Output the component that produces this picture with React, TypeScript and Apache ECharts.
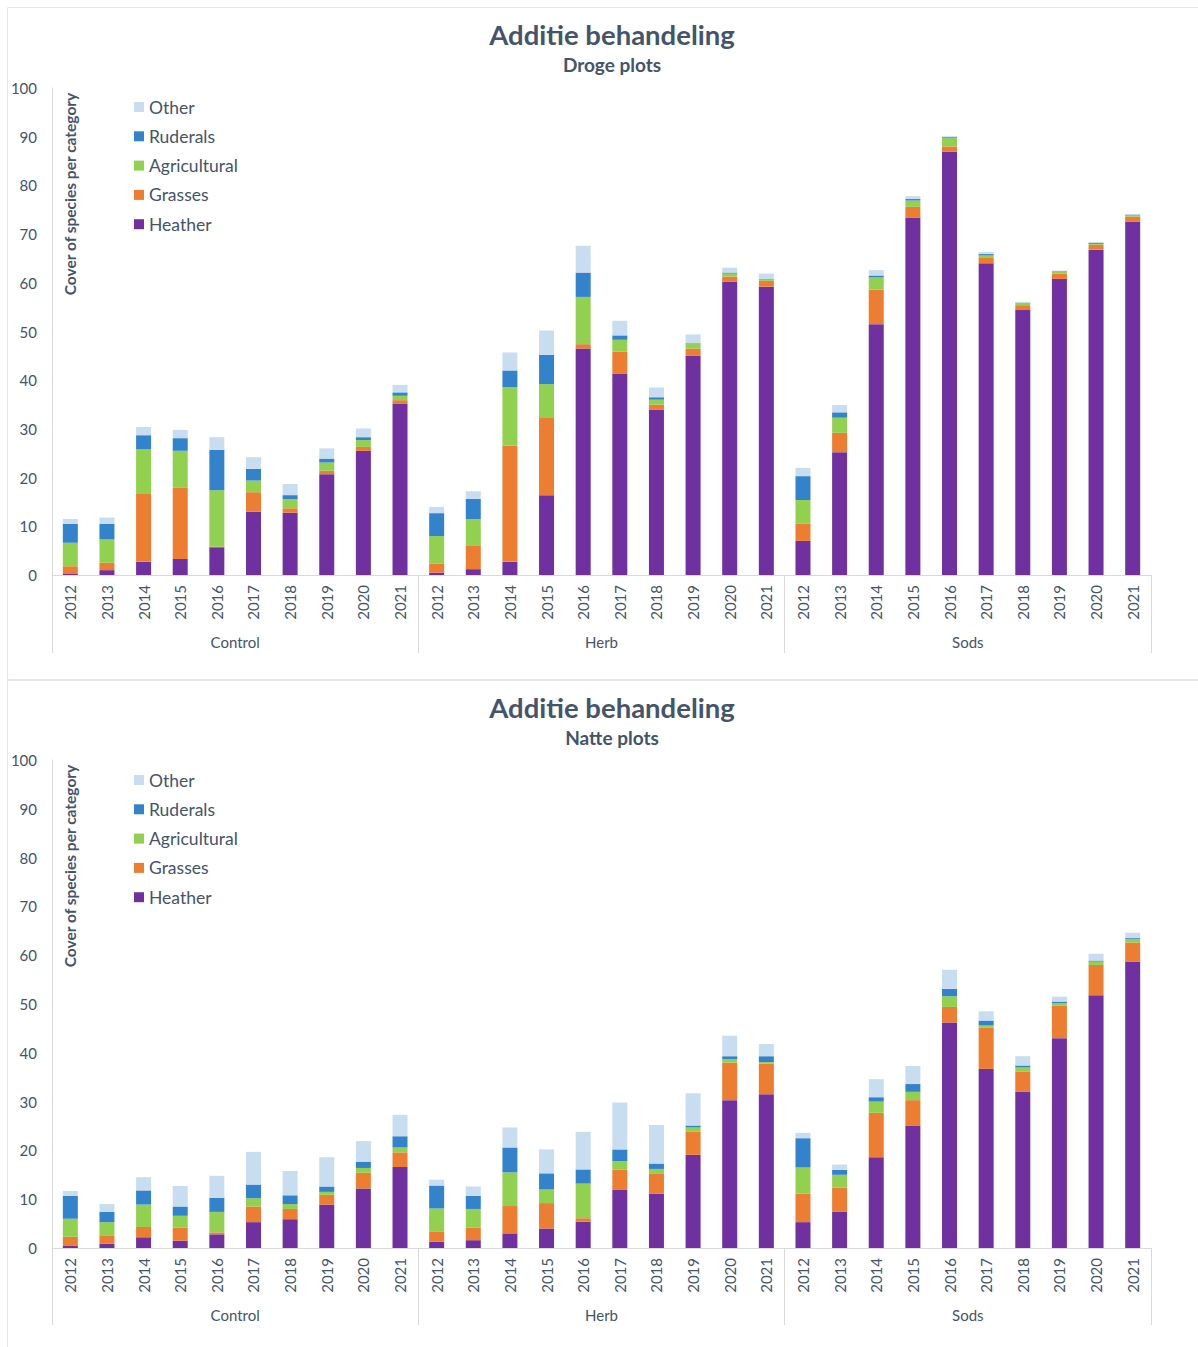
import React, { useEffect, useRef } from "react";
import * as echarts from "echarts";

const years = ["2012", "2013", "2014", "2015", "2016", "2017", "2018", "2019", "2020", "2021"];
const groups = ["Control", "Herb", "Sods"];
const legendOrder = ["Other", "Ruderals", "Agricultural", "Grasses", "Heather"];
const titleText = "Additie behandeling";
const subtitles = ["Droge plots", "Natte plots"];
const yAxisName = "Cover of species per category";

// Droge plots (dry) — Control | Herb | Sods, 2012..2021 each
const drogeHeather = [
  0.2, 1.0, 2.7, 3.3, 5.7, 13.0, 12.8, 20.7, 25.5, 35.2,
  0.5, 1.2, 2.7, 16.4, 46.5, 41.3, 33.9, 45.0, 60.2, 59.2,
  7.0, 25.2, 51.5, 73.4, 86.9, 64.0, 54.4, 60.8, 66.8, 72.6,
];
const drogeGrasses = [
  1.6, 1.5, 14.1, 14.6, 0.1, 4.0, 0.9, 0.7, 0.8, 0.7,
  1.8, 4.9, 23.9, 16.0, 0.9, 4.6, 1.1, 1.5, 1.1, 1.2,
  3.5, 4.0, 7.1, 2.2, 1.1, 1.1, 1.0, 1.1, 1.0, 1.0,
];
const drogeAgricultural = [
  4.8, 4.8, 9.0, 7.6, 11.6, 2.4, 1.9, 1.7, 1.4, 0.9,
  5.7, 5.4, 12.0, 6.8, 9.7, 2.4, 1.0, 1.0, 0.6, 0.3,
  4.9, 3.1, 2.5, 1.3, 1.7, 0.5, 0.4, 0.4, 0.2, 0.3,
];
const drogeRuderals = [
  3.9, 3.2, 2.9, 2.6, 8.3, 2.4, 0.8, 0.8, 0.6, 0.7,
  4.7, 4.1, 3.4, 6.0, 5.0, 0.9, 0.5, 0.1, 0.2, 0.1,
  4.9, 1.1, 0.4, 0.3, 0.2, 0.3, 0.1, 0.1, 0.2, 0.1,
];
const drogeOther = [
  1.0, 1.3, 1.7, 1.7, 2.6, 2.4, 2.3, 2.1, 1.8, 1.5,
  1.3, 1.6, 3.7, 5.0, 5.5, 3.0, 2.0, 1.8, 1.0, 1.1,
  1.7, 1.5, 1.1, 0.6, 0.2, 0.4, 0.2, 0.1, 0.2, 0.1,
];

// Natte plots (wet)
const natteHeather = [
  0.5, 0.9, 2.2, 1.5, 2.8, 5.3, 5.9, 8.9, 12.2, 16.6,
  1.3, 1.6, 3.0, 4.0, 5.4, 11.9, 11.1, 19.1, 30.3, 31.5,
  5.3, 7.4, 18.6, 25.1, 46.2, 36.7, 32.0, 43.0, 51.8, 58.7,
];
const natteGrasses = [
  1.8, 1.7, 2.1, 2.7, 0.4, 3.2, 2.1, 2.0, 3.2, 3.0,
  2.0, 2.6, 5.6, 5.2, 0.7, 4.2, 4.2, 4.7, 7.7, 6.3,
  5.8, 5.0, 9.1, 5.2, 3.2, 8.5, 4.1, 6.7, 6.2, 3.9,
];
const natteAgricultural = [
  3.7, 2.7, 4.6, 2.4, 4.2, 1.7, 1.0, 0.6, 1.0, 1.0,
  4.8, 3.8, 6.9, 2.8, 7.1, 1.7, 0.9, 0.9, 0.7, 0.3,
  5.4, 2.6, 2.3, 1.7, 2.2, 0.4, 0.9, 0.5, 0.7, 0.7,
];
const natteRuderals = [
  4.7, 2.1, 2.9, 1.9, 2.9, 2.8, 1.8, 1.1, 1.3, 2.3,
  4.7, 2.7, 5.1, 3.3, 2.9, 2.4, 1.1, 0.4, 0.6, 1.2,
  6.0, 1.0, 0.9, 1.6, 1.5, 1.0, 0.4, 0.3, 0.2, 0.2,
];
const natteOther = [
  1.0, 1.6, 2.7, 4.2, 4.5, 6.7, 5.0, 6.0, 4.2, 4.4,
  1.2, 1.9, 4.1, 4.9, 7.7, 9.6, 7.9, 6.6, 4.2, 2.5,
  1.1, 1.1, 3.7, 3.7, 3.9, 1.9, 1.9, 1.0, 1.4, 1.1,
];

const colors: Record<string, string> = {
  Heather: "#7030a0",
  Grasses: "#ed7d31",
  Agricultural: "#92d050",
  Ruderals: "#3383cc",
  Other: "#c9ddf0",
};

const FONT = "Lato, 'Noto Sans', sans-serif";
const TEXT = "#44546a";
const AXIS = "#d9d9d9";

export default function App() {
  const ref = useRef<HTMLDivElement>(null);

  useEffect(() => {
    if (!ref.current) return;
    const chart = echarts.init(ref.current, undefined, { renderer: "svg" });

    const categories = groups.flatMap((g) => years.map((y) => g + "|" + y));
    const panels = [
      {
        top: 88,
        height: 487,
        titleTop: 19,
        legendTop: 98,
        nameY: 194,
        sepLen: 78,
        data: {
          Heather: drogeHeather,
          Grasses: drogeGrasses,
          Agricultural: drogeAgricultural,
          Ruderals: drogeRuderals,
          Other: drogeOther,
        } as Record<string, number[]>,
      },
      {
        top: 760,
        height: 488,
        titleTop: 692,
        legendTop: 771,
        nameY: 866,
        sepLen: 77,
        data: {
          Heather: natteHeather,
          Grasses: natteGrasses,
          Agricultural: natteAgricultural,
          Ruderals: natteRuderals,
          Other: natteOther,
        } as Record<string, number[]>,
      },
    ];
    const stackOrder = ["Heather", "Grasses", "Agricultural", "Ruderals", "Other"];

    const grid: any[] = [];
    const xAxis: any[] = [];
    const yAxis: any[] = [];
    const series: any[] = [];
    const title: any[] = [];
    const legend: any[] = [];
    const graphic: any[] = [];

    panels.forEach((p, i) => {
      grid.push({ left: 52, width: 1099, top: p.top, height: p.height, containLabel: false });
      xAxis.push({
        type: "category",
        gridIndex: i,
        data: categories,
        axisLine: { show: true, lineStyle: { color: AXIS, width: 1 } },
        axisTick: { show: false },
        axisLabel: {
          interval: 0,
          rotate: 90,
          margin: 10,
          fontSize: 15,
          fontFamily: FONT,
          color: TEXT,
          formatter: (v: string) => v.split("|")[1],
        },
        splitLine: { show: false },
      });
      xAxis.push({
        type: "category",
        gridIndex: i,
        position: "bottom",
        data: groups,
        axisLine: { show: false },
        axisTick: { show: true, length: p.sepLen, lineStyle: { color: AXIS, width: 1 } },
        axisLabel: { interval: 0, margin: 59, fontSize: 15, fontFamily: FONT, color: TEXT },
        splitLine: { show: false },
      });
      yAxis.push({
        type: "value",
        gridIndex: i,
        min: 0,
        max: 100,
        interval: 10,
        axisLine: { show: true, lineStyle: { color: AXIS, width: 1 } },
        axisTick: { show: false },
        splitLine: { show: false },
        axisLabel: { margin: 15, fontSize: 15, fontFamily: FONT, color: TEXT },
      });
      stackOrder.forEach((name) => {
        series.push({
          type: "bar",
          name,
          xAxisIndex: i * 2,
          yAxisIndex: i,
          stack: "panel" + i,
          barWidth: 15,
          data: p.data[name],
          itemStyle: { color: colors[name] },
        });
      });
      title.push({
        text: titleText,
        subtext: subtitles[i],
        left: 612,
        top: p.titleTop,
        textAlign: "center",
        padding: 0,
        itemGap: 5,
        textStyle: { fontFamily: FONT, fontSize: 27.5, fontWeight: "bold", color: TEXT, lineHeight: 30 },
        subtextStyle: { fontFamily: FONT, fontSize: 19, fontWeight: "bold", color: TEXT, lineHeight: 20 },
      });
      legend.push({
        data: legendOrder,
        orient: "vertical",
        left: 134,
        top: p.legendTop,
        padding: 0,
        itemWidth: 10,
        itemHeight: 10,
        itemGap: 11.3,
        icon: "rect",
        selectedMode: false,
        textStyle: { fontFamily: FONT, fontSize: 17.5, color: TEXT, lineHeight: 17.5 },
      });
      graphic.push({
        type: "text",
        x: 70,
        y: p.nameY,
        rotation: Math.PI / 2,
        style: {
          text: yAxisName,
          fontFamily: FONT,
          fontSize: 15.5,
          fontWeight: "bold",
          fill: TEXT,
          textAlign: "center",
          textVerticalAlign: "middle",
        },
      });
    });

    // panel frame lines
    const frame = "#e3e6ea";
    graphic.push(
      { type: "line", shape: { x1: 7.5, y1: 7.5, x2: 1198, y2: 7.5 }, style: { stroke: frame, lineWidth: 1 } },
      { type: "line", shape: { x1: 7.5, y1: 7.5, x2: 7.5, y2: 1347 }, style: { stroke: frame, lineWidth: 1 } },
      { type: "line", shape: { x1: 7.5, y1: 680, x2: 1198, y2: 680 }, style: { stroke: frame, lineWidth: 2 } }
    );

    chart.setOption({
      animation: false,
      backgroundColor: "#ffffff",
      title,
      legend,
      grid,
      xAxis,
      yAxis,
      series,
      graphic,
    });

    return () => chart.dispose();
  }, []);

  return (
    <div
      ref={ref}
      style={{ position: "absolute", left: 0, top: 0, width: 1198, height: 1347 }}
    />
  );
}
